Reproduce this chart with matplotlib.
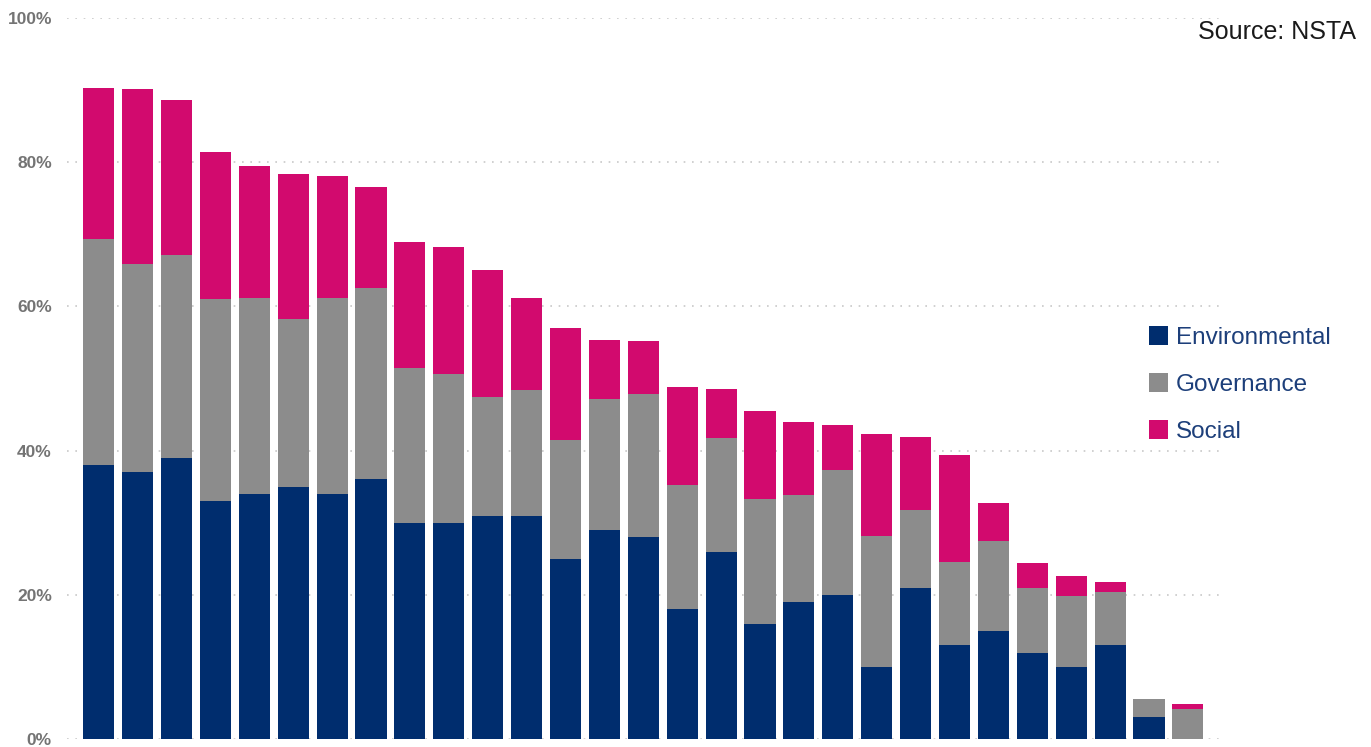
import matplotlib
matplotlib.use("Agg")
import matplotlib.pyplot as plt
from matplotlib.patches import Patch
import numpy as np

# share of each company's disclosures by ESG pillar (%)
environmental = [38, 37, 39, 33, 34, 35, 34, 36, 30, 30, 31, 31, 25, 29, 28,
                 18, 26, 16, 19, 20, 10, 21, 13, 15, 12, 10, 13, 3, 0]
governance = [31.3, 28.9, 28.1, 28.1, 27.2, 23.2, 27.2, 26.5, 21.5, 20.6,
              16.5, 17.4, 16.5, 18.2, 19.8, 17.3, 15.7, 17.3, 14.8, 17.3,
              18.1, 10.7, 11.5, 12.4, 9.0, 9.9, 7.4, 2.5, 4.1]
social = [21.0, 24.3, 21.6, 20.3, 18.3, 20.2, 16.9, 14.1, 17.5, 17.6,
          17.6, 12.8, 15.5, 8.1, 7.4, 13.5, 6.8, 12.2, 10.2, 6.2,
          14.2, 10.2, 14.9, 5.4, 3.4, 2.7, 1.4, 0, 0.7]
series_names = ["Environmental", "Governance", "Social"]
series_colors = ["#002d6e", "#8c8c8c", "#d20a6e"]
y_ticks = [0, 20, 40, 60, 80, 100]

plt.rcParams["font.family"] = ["Liberation Sans", "DejaVu Sans"]

fig = plt.figure(figsize=(13.71, 7.47), dpi=100)
ax = fig.add_axes([0.049, 0.0107, 0.841, 0.965])

x = np.arange(len(environmental))
bottom = np.zeros(len(x))
for vals, name, color in zip([environmental, governance, social], series_names, series_colors):
    ax.bar(x, vals, width=0.8, bottom=bottom, color=color, label=name, zorder=2)
    bottom += np.array(vals)

ax.set_xlim(-0.81, 28.83)
ax.set_ylim(0, 100)
ax.set_yticks(y_ticks)
ax.set_yticklabels([f"{t}%" for t in y_ticks], fontsize=12.5, fontweight="bold", color="#747474")
ax.set_xticks([])
ax.tick_params(axis="y", length=0, pad=11)
ax.yaxis.grid(True, linestyle=(0, (1, 4)), color="#c8c8c8", linewidth=1.2, zorder=0)
ax.set_axisbelow(True)
for s in ax.spines.values():
    s.set_visible(False)
ax.patch.set_visible(False)

fig.text(0.989, 0.957, "Source: NSTA", ha="right", va="center", fontsize=18, color="#1a1a1a")

handles = [Patch(facecolor=c, label=n) for c, n in zip(series_colors, series_names)]
leg = fig.legend(handles=handles, loc="center left", bbox_to_anchor=(1149 / 1371, 0.485),
                 frameon=False, fontsize=17.5, handlelength=0.8, handleheight=0.8,
                 handletextpad=0.3, labelspacing=1.0, borderpad=0, borderaxespad=0)
for t in leg.get_texts():
    t.set_color("#1d3f7a")

fig.savefig("out.png", dpi=100)
